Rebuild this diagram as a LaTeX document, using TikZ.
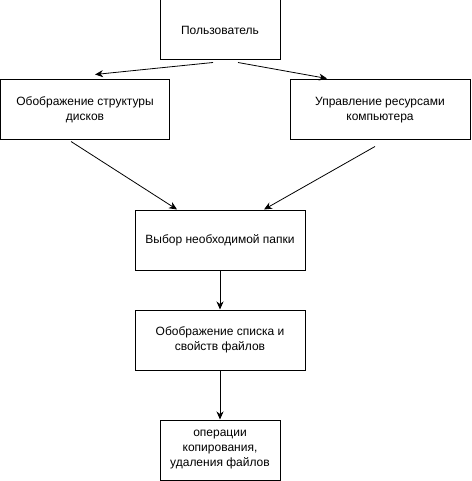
\documentclass[tikz,border=0pt]{standalone}
\usepackage{fontspec}
\setmainfont{Liberation Sans}
\usepackage{tikz}
\usetikzlibrary{arrows.meta,positioning,calc}

\begin{document}
\begin{tikzpicture}[x=1pt, y=-1pt,
    box/.style={draw, line width=1pt, align=center, minimum height=60pt,
      font=\fontsize{12}{15}\selectfont, inner sep=2pt},
    arr/.style={line width=0.8pt, -{Stealth[length=8pt, width=7pt, inset=2.5pt]}}]
  \useasboundingbox (0,0) rectangle (471,481);

  % Top box
  \node[box, minimum width=120pt] (user) at (220,30) {Пользователь};

  % Second row
  \node[box, minimum width=169pt] (disks) at (85,110) {Обображение структуры\\дисков};
  \node[box, minimum width=180pt] (res) at (380,110) {Управление ресурсами\\компьютера};

  % Middle column
  \node[box, minimum width=170pt] (folder) at (220,240) {Выбор необходимой папки};
  \node[box, minimum width=170pt] (list) at (220,340) {Обображение списка и\\свойств файлов};
  \node[box, minimum width=120pt] (ops) at (220,450) {операции\\копирования,\\удаления файлов};

  % Arrows
  \draw[arr] ($(user.south)+(-7,2)$) -- ($(disks.north)+(10,-5)$);
  \draw[arr] ($(user.south)+(18,2)$) -- ($(res.north)+(-53,-1)$);
  \draw[arr] ($(disks.south)+(-14,1)$) -- ($(folder.north)+(-43,0)$);
  \draw[arr] ($(res.south)+(-5,6)$) -- ($(folder.north)+(44,0)$);
  \draw[arr] (folder.south) -- (list.north);
  \draw[arr] (list.south) -- (ops.north);
\end{tikzpicture}
\end{document}
